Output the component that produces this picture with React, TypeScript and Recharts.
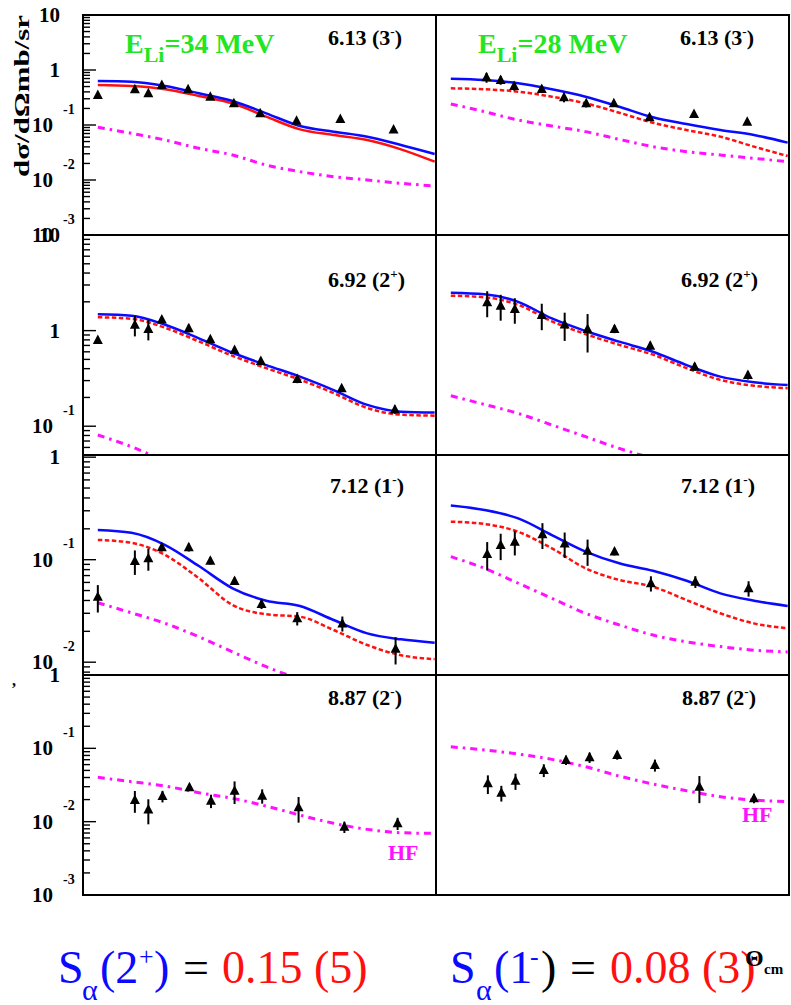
import { ComposedChart, Line, Scatter, XAxis, YAxis, ErrorBar, ReferenceArea } from "recharts";

const FONT = "'Liberation Serif', 'Times New Roman', Tinos, 'DejaVu Serif', 'Noto Serif', serif";
const GREEN = "#22e622";
const BLUE = "#0a0aff";
const RED = "#ff1010";
const MAGENTA = "#ff10ff";

// theta_cm grid the model curves are read at
const curveAngles = [0, 5, 10, 15, 20, 25, 30, 35, 40, 45, 50];
const xTicks = [0, 5, 10, 15, 20, 25, 30, 35, 40, 45];
const xLabels = [0, 20, 40];
const X_DOMAIN: [number, number] = [-2.2, 50.2];

// one entry per row of panels
const rowTops = [15, 235, 455, 675];
const rowDomains: [number, number][] = [[0.001, 10], [0.05, 10], [0.0075, 1.05], [0.001, 1]];
const rowDecades = [[0.001, 0.01, 0.1, 1, 10], [0.1, 1, 10], [0.01, 0.1, 1], [0.001, 0.01, 0.1, 1]];
const stateLabels = [["6.13", "3", "-"], ["6.92", "2", "+"], ["7.12", "1", "-"], ["8.87", "2", "-"]];

// E_Li = 34 MeV, 6.13 (3-)
const a613Angle = [0, 5.5, 7.5, 9.5, 13.4, 16.7, 20.2, 24.1, 29.5, 36.0, 43.9];
const a613Sigma = [0.351, 0.446, 0.377, 0.533, 0.446, 0.327, 0.248, 0.163, 0.12, 0.129, 0.083];
const a613Err = [0.02, 0.06, 0.05, 0.03, 0.03, 0.02, 0.015, 0.01, 0.006, 0.006, 0.004];
const a613Full = [0.631, 0.614, 0.512, 0.377, 0.273, 0.163, 0.096, 0.0757, 0.0614, 0.0433, 0.0297];
const a613Fit = [0.533, 0.512, 0.446, 0.337, 0.248, 0.142, 0.0834, 0.0658, 0.0533, 0.0361, 0.0215];
const a613Hf = [0.0908, 0.0706, 0.0533, 0.0377, 0.0285, 0.0187, 0.0142, 0.0115, 0.01, 0.0087, 0.00778];

// E_Li = 28 MeV, 6.13 (3-)
const b613Angle = [5.3, 7.4, 9.4, 13.5, 16.8, 20.1, 24.2, 29.5, 36.1, 44.0];
const b613Sigma = [0.736, 0.658, 0.512, 0.452, 0.318, 0.248, 0.248, 0.138, 0.158, 0.115];
const b613Err = [0.15, 0.12, 0.09, 0.07, 0.06, 0.04, 0.02, 0.015, 0.008, 0.006];
const b613Full = [0.695, 0.658, 0.573, 0.446, 0.327, 0.215, 0.138, 0.104, 0.081, 0.0658, 0.0478];
const b613Fit = [0.464, 0.446, 0.404, 0.327, 0.248, 0.167, 0.11, 0.081, 0.0614, 0.0404, 0.0273];
const b613Hf = [0.241, 0.175, 0.123, 0.096, 0.0757, 0.0548, 0.0404, 0.0327, 0.0285, 0.0248, 0.0215];

// 34 MeV, 6.92 (2+)
const a692Angle = [0, 5.5, 7.5, 9.5, 13.5, 16.7, 20.3, 24.2, 29.6, 36.2, 44.1];
const a692Sigma = [0.798, 1.15, 1.04, 1.31, 1.06, 0.81, 0.627, 0.481, 0.312, 0.249, 0.15];
const a692Err = [0.06, 0.28, 0.25, 0.1, 0.1, 0.07, 0.05, 0.04, 0.03, 0.02, 0.015];
const a692Full = [1.48, 1.43, 1.15, 0.83, 0.587, 0.436, 0.33, 0.239, 0.167, 0.142, 0.139];
const a692Fit = [1.38, 1.33, 1.07, 0.77, 0.545, 0.405, 0.307, 0.222, 0.155, 0.132, 0.129];
const a692Hf = [0.081, 0.061, 0.043];

// 28 MeV, 6.92 (2+)
const b692Angle = [5.4, 7.4, 9.5, 13.5, 16.9, 20.3, 24.3, 29.6, 36.2, 44.1];
const b692Sigma = [1.98, 1.82, 1.68, 1.46, 1.16, 1.04, 1.04, 0.695, 0.42, 0.343];
const b692Err = [0.6, 0.55, 0.5, 0.45, 0.38, 0.45, 0.1, 0.07, 0.04, 0.035];
const b692Full = [2.49, 2.4, 2.0, 1.34, 0.99, 0.766, 0.601, 0.436, 0.33, 0.288, 0.27];
const b692Fit = [2.32, 2.23, 1.86, 1.25, 0.92, 0.71, 0.56, 0.405, 0.305, 0.265, 0.25];
const b692Hf = [0.208, 0.169, 0.136, 0.103, 0.0777, 0.0586, 0.046];

// 34 MeV, 7.12 (1-)
const a712Angle = [0, 5.5, 7.5, 9.5, 13.5, 16.7, 20.3, 24.3, 29.6, 36.3, 44.2];
const a712Sigma = [0.0435, 0.097, 0.103, 0.132, 0.132, 0.0977, 0.0619, 0.037, 0.0268, 0.0239, 0.0135];
const a712Err = [0.013, 0.026, 0.025, 0.012, 0.012, 0.008, 0.005, 0.004, 0.004, 0.004, 0.004];
const a712Full = [0.195, 0.183, 0.139, 0.0867, 0.0526, 0.0398, 0.0353, 0.0258, 0.0191, 0.0167, 0.0155];
const a712Fit = [0.156, 0.146, 0.111, 0.0658, 0.0361, 0.0293, 0.0278, 0.0206, 0.0147, 0.0117, 0.0107];
const a712Hf = [0.038, 0.0303, 0.0239, 0.0177, 0.0126, 0.00903, 0.0068];

// 28 MeV, 7.12 (1-)
const b712Angle = [5.4, 7.4, 9.5, 13.6, 16.9, 20.3, 24.3, 29.7, 36.3, 44.2];
const b712Sigma = [0.1135, 0.139, 0.15, 0.177, 0.144, 0.122, 0.12, 0.0589, 0.061, 0.0526];
const b712Err = [0.035, 0.04, 0.04, 0.05, 0.04, 0.035, 0.01, 0.01, 0.008, 0.009];
const b712Full = [0.337, 0.305, 0.253, 0.174, 0.12, 0.0922, 0.078, 0.0623, 0.0469, 0.0398, 0.0353];
const b712Fit = [0.235, 0.223, 0.187, 0.129, 0.0824, 0.0634, 0.0545, 0.0403, 0.03, 0.0239, 0.0214];
const b712Hf = [0.107, 0.0824, 0.0589, 0.042, 0.03, 0.0231, 0.0184, 0.0158, 0.0142, 0.0131, 0.0126];

// 34 MeV, 8.87 (2-)
const a887Angle = [5.5, 7.5, 9.6, 13.6, 16.8, 20.3, 24.4, 29.8, 36.6, 44.5];
const a887Sigma = [0.0197, 0.0147, 0.0223, 0.0294, 0.0193, 0.0264, 0.0226, 0.0157, 0.0085, 0.0095];
const a887Err = [0.0065, 0.0055, 0.004, 0.003, 0.004, 0.009, 0.005, 0.006, 0.0015, 0.0018];
const a887Hf = [0.0402, 0.0351, 0.0306, 0.0248, 0.0208, 0.0163, 0.0123, 0.0095, 0.00785, 0.00706, 0.00692];

// 28 MeV, 8.87 (2-)
const b887Angle = [5.5, 7.5, 9.6, 13.8, 17.1, 20.6, 24.7, 30.3, 36.9, 45.0];
const b887Sigma = [0.0333, 0.0248, 0.0361, 0.0506, 0.0692, 0.0753, 0.081, 0.0592, 0.0299, 0.0208];
const b887Err = [0.0095, 0.006, 0.009, 0.01, 0.01, 0.012, 0.011, 0.011, 0.012, 0.003];
const b887Hf = [0.105, 0.0948, 0.0836, 0.0707, 0.0561, 0.0419, 0.0326, 0.0264, 0.0219, 0.0197, 0.0187];

type Pt = { x: number; y: number; e?: number };
const zip = (xs: number[], ys: number[], es?: number[]): Pt[] =>
  ys.map((y, i) => (es ? { x: xs[i], y, e: es[i] } : { x: xs[i], y }));

const hfStyle = { stroke: MAGENTA, strokeWidth: 3, strokeDasharray: "7 5 2.5 5" };
const fitStyle = { stroke: RED, strokeWidth: 2.5, strokeDasharray: "4.5 2.5" };
const fitSolid = { stroke: RED, strokeWidth: 2.5 };
const fullStyle = { stroke: BLUE, strokeWidth: 2.5 };

const curve = (ys: number[], style: any) => ({ data: zip(curveAngles, ys), style });

const panels = [
  { row: 0, col: 0, pts: zip(a613Angle, a613Sigma, a613Err), curves: [curve(a613Hf, hfStyle), curve(a613Fit, fitSolid), curve(a613Full, fullStyle)] },
  { row: 0, col: 1, pts: zip(b613Angle, b613Sigma, b613Err), curves: [curve(b613Hf, hfStyle), curve(b613Fit, fitStyle), curve(b613Full, fullStyle)] },
  { row: 1, col: 0, pts: zip(a692Angle, a692Sigma, a692Err), curves: [curve(a692Hf, hfStyle), curve(a692Fit, fitStyle), curve(a692Full, fullStyle)] },
  { row: 1, col: 1, pts: zip(b692Angle, b692Sigma, b692Err), curves: [curve(b692Hf, hfStyle), curve(b692Fit, fitStyle), curve(b692Full, fullStyle)] },
  { row: 2, col: 0, pts: zip(a712Angle, a712Sigma, a712Err), curves: [curve(a712Hf, hfStyle), curve(a712Fit, fitStyle), curve(a712Full, fullStyle)] },
  { row: 2, col: 1, pts: zip(b712Angle, b712Sigma, b712Err), curves: [curve(b712Hf, hfStyle), curve(b712Fit, fitStyle), curve(b712Full, fullStyle)] },
  { row: 3, col: 0, pts: zip(a887Angle, a887Sigma, a887Err), curves: [curve(a887Hf, hfStyle)] },
  { row: 3, col: 1, pts: zip(b887Angle, b887Sigma, b887Err), curves: [curve(b887Hf, hfStyle)] },
];

function logTicks(min: number, max: number) {
  const out: number[] = [];
  for (let e = Math.floor(Math.log10(min)); e <= Math.ceil(Math.log10(max)); e++) {
    for (let k = 1; k <= 9; k++) {
      const v = +(k * Math.pow(10, e)).toPrecision(3);
      if (v >= min * 0.999 && v <= max * 1.001) out.push(v);
    }
  }
  return out;
}

const serif = { fontFamily: FONT };

const YTick = (props: any) => {
  const { x, y, payload, decades, labels } = props;
  const v = payload.value;
  const major = decades.some((d: number) => Math.abs(d - v) < d * 1e-6);
  const len = major ? 13 : 7;
  const k = Math.round(Math.log10(v));
  return (
    <g>
      <line x1={x} x2={x + len} y1={y} y2={y} stroke="#000" strokeWidth={1.4} />
      {major && labels && (v >= 1 ? (
        <text x={x - 23} y={y} textAnchor="end" dominantBaseline="central" fontSize={21} fontWeight="bold" style={serif} fill="#000">{String(v)}</text>
      ) : (
        <g fontWeight="bold" fill="#000" style={serif}>
          <text x={x - 30} y={y} textAnchor="end" dominantBaseline="central" fontSize={21}>10</text>
          <text x={x - 20} y={y - 16} textAnchor="start" dominantBaseline="central" fontSize={14}>{String(k)}</text>
        </g>
      ))}
    </g>
  );
};

const XTick = (props: any) => {
  const { x, y, payload, labels } = props;
  const v = payload.value;
  const len = v % 10 === 0 ? 15 : 7;
  return (
    <g>
      <line x1={x} x2={x} y1={y} y2={y - len} stroke="#000" strokeWidth={1.4} />
      {labels && xLabels.includes(v) && (
        <text x={x} y={y + 28} textAnchor="middle" fontSize={22} fontWeight="bold" style={serif} fill="#000">{v}</text>
      )}
    </g>
  );
};

const Triangle = (props: any) => {
  const { cx, cy } = props;
  return <path d={`M${cx},${cy - 5.5}L${cx + 5},${cy + 4}L${cx - 5},${cy + 4}Z`} fill="#000" />;
};

function Panel({ row, col, pts, curves }: any) {
  const [ymin, ymax] = rowDomains[row];
  const bottom = row === 3 ? 40 : 12;
  const yw = col === 0 ? 83 : 0;
  const width = yw + 353 + 2;
  const height = 12 + 220 + bottom;
  return (
    <div style={{ position: "absolute", left: col === 0 ? 0 : 436, top: rowTops[row] - 12 }}>
      <ComposedChart width={width} height={height} margin={{ top: 12, right: 2, bottom, left: 0 }}>
        <XAxis
          dataKey="x" type="number" domain={X_DOMAIN} allowDataOverflow ticks={xTicks} interval={0}
          height={0} tickSize={0} tickMargin={0} axisLine={false} tickLine={false}
          tick={(p: any) => <XTick {...p} labels={row === 3} />}
        />
        <YAxis
          type="number" scale="log" domain={[ymin, ymax]} allowDataOverflow ticks={logTicks(ymin, ymax)} interval={0}
          width={yw} tickSize={0} tickMargin={0} axisLine={false} tickLine={false}
          tick={(p: any) => <YTick {...p} decades={rowDecades[row]} labels={col === 0} />}
        />
        <ReferenceArea x1={X_DOMAIN[0]} x2={X_DOMAIN[1]} y1={ymin} y2={ymax} fill="none" stroke="#000" strokeWidth={2} ifOverflow="visible" />
        {curves.map((c: any, i: number) => (
          <Line key={i} data={c.data} dataKey="y" type="monotone" dot={false} activeDot={false} isAnimationActive={false} {...c.style} />
        ))}
        <Scatter data={pts} dataKey="y" shape={Triangle} isAnimationActive={false}>
          <ErrorBar dataKey="e" direction="y" width={0} stroke="#000" strokeWidth={2} />
        </Scatter>
      </ComposedChart>
    </div>
  );
}

const stateX = [[328, 680], [328, 681], [330, 681], [328, 682]];
const stateY = [45, 287, 493, 705];

export default function App() {
  return (
    <div style={{ position: "absolute", left: 0, top: 0, width: 791, height: 1005, background: "#fff" }}>
      <style>{`.recharts-surface{overflow:visible}`}</style>
      {panels.map((p, i) => <Panel key={i} {...p} />)}
      <svg width={791} height={1005} style={{ position: "absolute", left: 0, top: 0, pointerEvents: "none", overflow: "visible", fontFamily: FONT }}>
        <g style={serif}>
          <text transform="translate(29,96) rotate(-90)" textAnchor="middle" fontSize={22} fontWeight="bold" textLength={162} lengthAdjust="spacingAndGlyphs">dσ/dΩmb/sr</text>
          <text x={12} y={686} fontSize={16} fontWeight="bold">,</text>

          <text x={125} y={53} fill={GREEN} fontSize={28} fontWeight="bold">E<tspan fontSize={22} dy={9}>Li</tspan><tspan dy={-9}>=34 MeV</tspan></text>
          <text x={478} y={53} fill={GREEN} fontSize={28} fontWeight="bold">E<tspan fontSize={22} dy={9}>Li</tspan><tspan dy={-9}>=28 MeV</tspan></text>

          {stateLabels.map((s, r) => stateX[r].map((x, c) => (
            <text key={`${r}-${c}`} x={x} y={stateY[r]} fontSize={22} fontWeight="bold" fill="#000">
              {s[0]} ({s[1]}<tspan fontSize={13} dy={-9}>{s[2]}</tspan><tspan dy={9}>)</tspan>
            </text>
          )))}

          <text x={388} y={860} fill={MAGENTA} fontSize={22} fontWeight="bold">HF</text>
          <text x={742} y={822} fill={MAGENTA} fontSize={22} fontWeight="bold">HF</text>

          <text y={983} fontSize={46}>
            <tspan x={58} fill={BLUE}>S</tspan>
            <tspan x={82} dy={17} fontSize={30} fill={BLUE}>α</tspan>
            <tspan x={100} dy={-17} fill={BLUE}>(2</tspan>
            <tspan x={139} dy={-18} fontSize={26} fill={BLUE}>+</tspan>
            <tspan x={154} dy={18} fill={BLUE}>)</tspan>
            <tspan x={183} fill="#000">=</tspan>
            <tspan x={222} fill={RED}>0.15 (5)</tspan>
          </text>
          <text y={983} fontSize={46}>
            <tspan x={450} fill={BLUE}>S</tspan>
            <tspan x={476} dy={17} fontSize={30} fill={BLUE}>α</tspan>
            <tspan x={494} dy={-17} fill={BLUE}>(1</tspan>
            <tspan x={530} dy={-18} fontSize={26} fill={BLUE}>-</tspan>
            <tspan x={541} dy={18} fill="#000">)</tspan>
            <tspan x={570} fill="#000">=</tspan>
            <tspan x={610} fill={RED}>0.08 (3)</tspan>
          </text>
          <text x={745} y={966} fontSize={24} fontWeight="bold">Θ</text>
          <text x={764} y={974} fontSize={15} fontWeight="bold">cm</text>
        </g>
      </svg>
    </div>
  );
}
